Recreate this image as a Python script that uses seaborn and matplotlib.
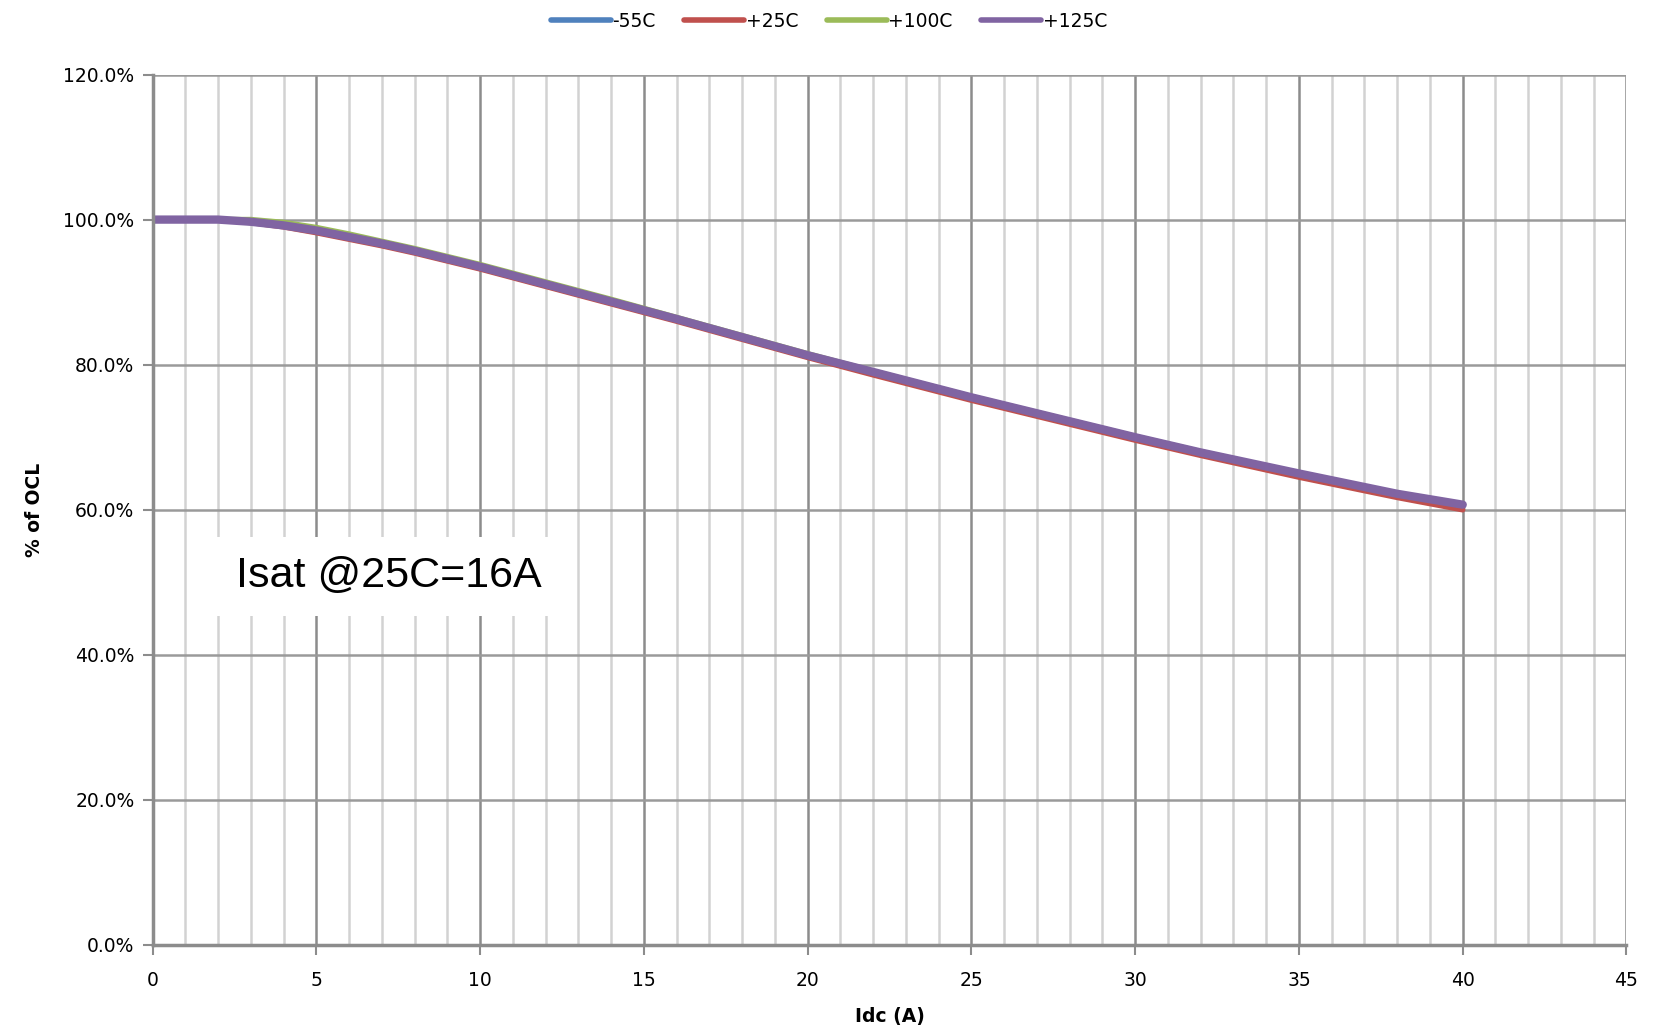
import matplotlib
matplotlib.use("Agg")
import matplotlib.pyplot as plt
import seaborn as sns
import pandas as pd
from matplotlib.ticker import MultipleLocator, PercentFormatter

# Idc (A) sample points
idc = [0, 1, 2, 3, 4, 5, 6, 7, 8, 10, 12, 14, 16, 18, 20, 22, 25, 28, 30, 32, 35, 38, 40]

# % of OCL per temperature
m55 = [100, 100, 100, 99.7, 99.2, 98.4, 97.5, 96.6, 95.6, 93.4, 91.0, 88.6, 86.2, 83.7, 81.2, 78.8, 75.3, 72.0, 69.8, 67.7, 64.7, 61.9, 60.3]
p25 = [100, 100, 100, 99.6, 99.0, 98.2, 97.3, 96.4, 95.4, 93.2, 90.8, 88.4, 86.0, 83.5, 81.0, 78.6, 75.1, 71.8, 69.6, 67.5, 64.5, 61.7, 60.0]
p100 = [100, 100, 100, 100.0, 99.6, 98.9, 98.0, 97.0, 96.0, 93.8, 91.4, 89.0, 86.5, 84.0, 81.5, 79.1, 75.6, 72.3, 70.1, 68.0, 65.0, 62.2, 60.6]
p125 = [100, 100, 100, 99.7, 99.2, 98.5, 97.6, 96.7, 95.7, 93.5, 91.1, 88.7, 86.3, 83.8, 81.3, 79.0, 75.5, 72.2, 70.0, 67.9, 65.0, 62.2, 60.7]

labels = ["-55C", "+25C", "+100C", "+125C"]
colors = ["#4F81BD", "#C0504D", "#9BBB59", "#8064A2"]

frames = []
for lab, vals in zip(labels, [m55, p25, p100, p125]):
    frames.append(pd.DataFrame({"Idc": idc, "OCL": vals, "Temp": lab}))
df = pd.concat(frames, ignore_index=True)

sns.set_style("white")
plt.rcParams['font.family'] = ['DejaVu Sans']
plt.rcParams['text.color'] = 'black'

fig = plt.figure(figsize=(16.58, 10.35), dpi=100)
ax = fig.add_axes([0.092, 0.087, 0.889, 0.841])

# grid
ax.xaxis.set_major_locator(MultipleLocator(5))
ax.xaxis.set_minor_locator(MultipleLocator(1))
ax.yaxis.set_major_locator(MultipleLocator(20))
ax.grid(which="minor", axis="x", color="#d2d2d2", linewidth=1.8)
ax.grid(which="major", axis="x", color="#8c8c8c", linewidth=1.8)
ax.grid(which="major", axis="y", color="#9a9a9a", linewidth=1.8)
ax.set_axisbelow(True)

sns.lineplot(data=df, x="Idc", y="OCL", hue="Temp", palette=colors,
             hue_order=labels, linewidth=4, ax=ax, legend=False)
# purple drawn a bit heavier on top
ax.lines[-1].set_linewidth(6)

ax.set_xlim(0, 45)
ax.set_ylim(0, 120)
ax.yaxis.set_major_formatter(PercentFormatter(decimals=1))

for s in ["top", "right"]:
    ax.spines[s].set_visible(False)
for s in ["left", "bottom"]:
    ax.spines[s].set_color("#8c8c8c")
    ax.spines[s].set_linewidth(2.5)

ax.tick_params(axis="both", which="major", length=7, width=1.5, color="#8c8c8c",
               labelsize=13.5, labelcolor="black", direction="out", pad=6)
ax.tick_params(axis="x", which="minor", length=0)
ax.tick_params(axis="x", which="major", pad=12)
ax.tick_params(left=True, bottom=True)

ax.set_xlabel("Idc (A)", fontsize=13.5, fontweight="bold", labelpad=12, color="black")
ax.set_ylabel("% of OCL", fontsize=13.5, fontweight="bold", labelpad=14, color="black")

ax.text(7.2, 50.8, "Isat @25C=16A", fontsize=31, family="Liberation Sans",
        ha="center", va="center", color="black",
        bbox=dict(facecolor="white", edgecolor="none", pad=14))

handles = [plt.Line2D([], [], color=c, linewidth=4) for c in colors]
fig.legend(handles, labels, loc="upper center", bbox_to_anchor=(0.5, 1.005),
           ncol=4, frameon=False, fontsize=13.5, handlelength=3.2,
           handletextpad=0.1, columnspacing=1.5)

fig.savefig("out.png", dpi=100)
